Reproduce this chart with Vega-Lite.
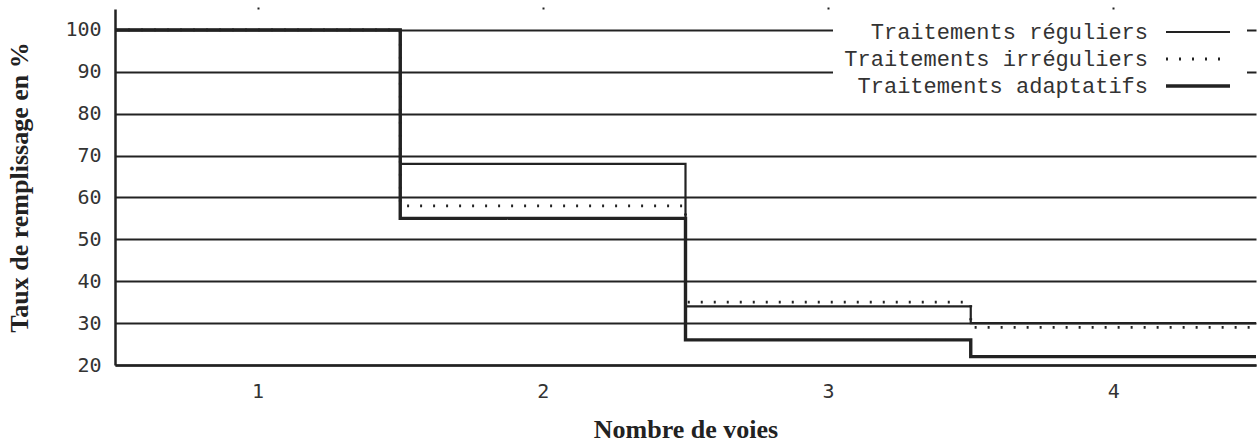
{
  "$schema": "https://vega.github.io/schema/vega-lite/v6.json",
  "width": 1141,
  "height": 356,
  "autosize": {"type": "none"},
  "padding": {"left": 115, "top": 9, "right": 2, "bottom": 79},
  "background": "white",
  "data": {
    "values": [
      {"voies": 0.5, "taux": 100, "serie": "Traitements réguliers"},
      {"voies": 1.5, "taux": 68, "serie": "Traitements réguliers"},
      {"voies": 2.5, "taux": 34, "serie": "Traitements réguliers"},
      {"voies": 3.5, "taux": 30, "serie": "Traitements réguliers"},
      {"voies": 4.5, "taux": 30, "serie": "Traitements réguliers"},
      {"voies": 0.5, "taux": 100, "serie": "Traitements irréguliers"},
      {"voies": 1.5, "taux": 58, "serie": "Traitements irréguliers"},
      {"voies": 2.5, "taux": 35, "serie": "Traitements irréguliers"},
      {"voies": 3.5, "taux": 29, "serie": "Traitements irréguliers"},
      {"voies": 4.5, "taux": 29, "serie": "Traitements irréguliers"},
      {"voies": 0.5, "taux": 100, "serie": "Traitements adaptatifs"},
      {"voies": 1.5, "taux": 55, "serie": "Traitements adaptatifs"},
      {"voies": 2.5, "taux": 26, "serie": "Traitements adaptatifs"},
      {"voies": 3.5, "taux": 22, "serie": "Traitements adaptatifs"},
      {"voies": 4.5, "taux": 22, "serie": "Traitements adaptatifs"}
    ]
  },
  "resolve": {"axis": {"x": "independent"}},
  "layer": [
    {
      "mark": {"type": "line", "interpolate": "step-after", "color": "#222", "clip": false},
      "encoding": {
        "x": {
          "field": "voies", "type": "quantitative",
          "scale": {"domain": [0.5, 4.5], "nice": false, "zero": false},
          "axis": {
            "orient": "bottom", "values": [1, 2, 3, 4], "format": "d", "ticks": false, "grid": false,
            "domainColor": "#222", "domainWidth": 2.5,
            "labelFont": "DejaVu Sans Mono", "labelFontSize": 20, "labelColor": "#333", "labelPadding": 16,
            "title": "Nombre de voies", "titleFont": "Liberation Serif", "titleFontSize": 26,
            "titleFontWeight": "bold", "titleColor": "#222", "titlePadding": 15
          }
        },
        "y": {
          "field": "taux", "type": "quantitative",
          "scale": {"domain": [20, 105], "nice": false, "zero": false},
          "axis": {
            "values": [20, 30, 40, 50, 60, 70, 80, 90, 100], "ticks": false, "grid": true,
            "gridColor": "#222", "gridWidth": 2, "gridOpacity": 1,
            "domainColor": "#222", "domainWidth": 2.5,
            "labelFont": "DejaVu Sans Mono", "labelFontSize": 20, "labelColor": "#333", "labelPadding": 14,
            "title": "Taux de remplissage en  %", "titleFont": "Liberation Serif", "titleFontSize": 26,
            "titleFontWeight": "bold", "titleColor": "#222", "titlePadding": 32
          }
        },
        "strokeDash": {
          "field": "serie", "type": "nominal",
          "scale": {"domain": ["Traitements réguliers", "Traitements irréguliers", "Traitements adaptatifs"],
                    "range": [[1, 0], [2, 11], [1, 0]]},
          "legend": {"title": null}
        },
        "strokeWidth": {
          "field": "serie", "type": "nominal",
          "scale": {"type": "point", "domain": ["Traitements réguliers", "Traitements irréguliers", "Traitements adaptatifs"],
                    "range": [2.2, 3.4], "padding": 0},
          "legend": {"title": null}
        }
      }
    },
    {
      "mark": {"type": "rule", "opacity": 0},
      "encoding": {
        "x": {
          "field": "voies", "type": "quantitative",
          "axis": {"orient": "top", "values": [1, 2, 3, 4], "labels": false, "domain": false, "grid": false,
                   "ticks": true, "tickSize": 2, "tickWidth": 2, "tickColor": "#222", "title": null}
        }
      }
    }
  ],
  "config": {
    "view": {"stroke": null},
    "legend": {
      "orient": "none", "legendX": 718, "legendY": 2,
      "fillColor": "white", "padding": 10,
      "symbolType": "M-4,0H4", "symbolSize": 256, "symbolStrokeColor": "#222",
      "symbolOffset": 344,
      "labelFont": "Liberation Mono", "labelFontSize": 22, "labelColor": "#333",
      "labelAlign": "right", "labelOffset": -61, "rowPadding": 5, "labelLimit": 0
    }
  }
}
